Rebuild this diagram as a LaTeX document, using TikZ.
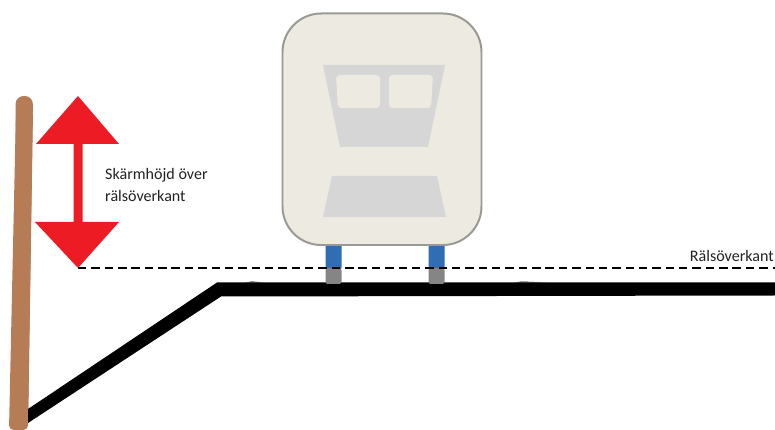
\documentclass[tikz,border=0pt]{standalone}
\usepackage{fontspec}
\setmainfont{Carlito}
\usepackage{tikz}
\usetikzlibrary{arrows.meta,calc,positioning}
\definecolor{SKPole}{HTML}{B67C55}
\definecolor{SKRed}{HTML}{ED1C24}
\definecolor{SKScreen}{HTML}{EDEAE1}
\definecolor{SKEdge}{HTML}{9A9A94}
\definecolor{SKTrain}{HTML}{D6D6D6}
\definecolor{SKBlue}{HTML}{2F6DB5}
\definecolor{SKFoot}{HTML}{858585}
\definecolor{SKText}{HTML}{222222}
\tikzset{
  labeltext/.style={inner sep=0pt, text=SKText, font=\fontsize{13.7}{18.7}\selectfont},
  trainpart/.style={fill=SKTrain, draw=none},
  trainwindow/.style={fill=SKScreen, draw=none, rounded corners=3},
}
\newcommand{\screenleg}[1]{%
  \fill[SKBlue, rounded corners=2] (#1,243) rectangle ++(16,27);
  \fill[SKFoot, rounded corners=2] (#1,268) rectangle ++(16,16);
}
\begin{document}
\begin{tikzpicture}[x=0.03cm,y=-0.03cm]
  \useasboundingbox (0,0) rectangle (775,430);
  % pole
  \fill[SKPole, rounded corners=7] (16,430) -- (15.5,96) -- (33,96) -- (28,430) -- cycle;
  \fill[SKPole, rounded corners=4] (9,430) -- (16,110) -- (33,110) -- (28,430) -- cycle;

  % rail
  \fill[black] (28,409) -- (217,282.5) -- (775,282.5) -- (775,295.5) -- (221,296.5) -- (28,423) -- cycle;
  \fill[black] (245,282.5) -- (252,281.5) -- (264,282.5) -- cycle;
  \fill[black] (514,282.5) -- (522,281.5) -- (546,282.5) -- cycle;

  % height arrow
  \fill[SKRed] (78,96) -- (119,144) -- (82.5,144) -- (82.5,222) -- (119,222)
    -- (78,268) -- (35,222) -- (73.5,222) -- (73.5,144) -- (36,144) -- cycle;

  % screen
  \screenleg{325.5}
  \screenleg{428.5}
  \draw[draw=SKEdge, fill=SKScreen, line width=1.7pt, rounded corners=33]
    (282.5,13.5) rectangle (481.5,245);
  \fill[trainpart] (323,65) -- (445,65) -- (428,147) -- (340,147) -- cycle;
  \fill[trainwindow] (336,75) -- (380,75) -- (380,108) -- (338,108) -- cycle;
  \fill[trainwindow] (389,75) -- (433,75) -- (431,108) -- (389,108) -- cycle;
  \fill[trainpart] (332,176) -- (437,176) -- (446,217) -- (323,217) -- cycle;

  % top of rail
  \coordinate (dashstart) at (78,268);
  \coordinate (dashend) at (775,268);
  \draw[black, line width=1.15pt, dash pattern=on 7.2 off 4.2] (dashstart) -- (dashend);

  \node[labeltext, anchor=base west] (screenheight) at (105,180) {Skärmhöjd över};
  \node[labeltext, anchor=base west] (railtop) at (105,202) {rälsöverkant};
  \node[labeltext, anchor=base east] (railedge) at (774,262) {Rälsöverkant};
\end{tikzpicture}
\end{document}
